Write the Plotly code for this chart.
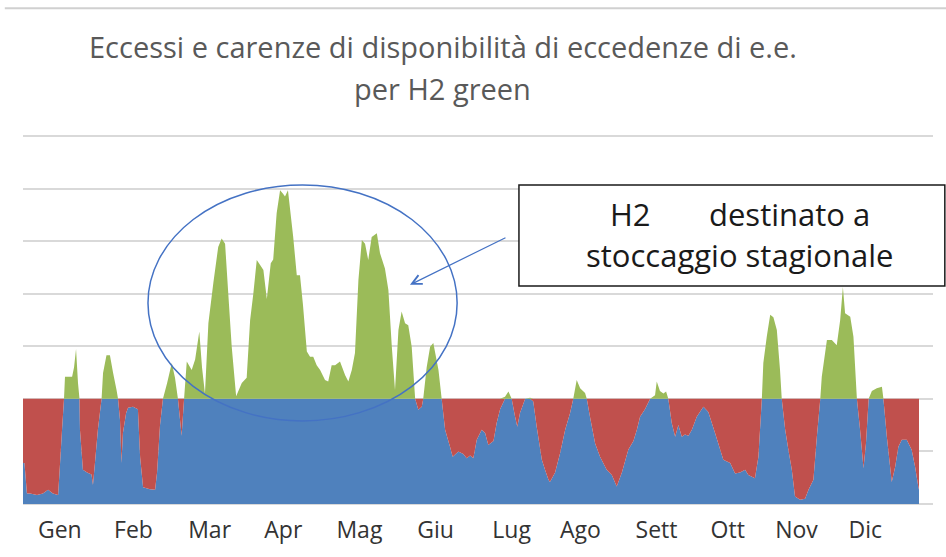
import numpy as np
import plotly.graph_objects as go

months = ["Gen", "Feb", "Mar", "Apr", "Mag", "Giu", "Lug", "Ago", "Sett", "Ott", "Nov", "Dic"]
month_pos = [15, 45, 76, 106, 137, 168, 199, 227, 258, 287, 315, 343]

threshold = 2.0  # fabbisogno

# giorno dell'anno
days = [
    0, 0.6, 1.6, 2.9, 5.7, 8.1, 10.2, 12.2, 14.3, 15.1,
    15.9, 16.7, 17.1, 20.0, 20.8, 21.6, 22.4, 23.0, 23.2, 24.4,
    26.1, 27.9, 28.5, 29.3, 30.5, 32.0, 32.6, 34.0, 35.4, 36.7,
    38.1, 38.7, 39.5, 40.1, 40.7, 42.0, 42.8, 44.8, 46.8, 47.7,
    48.9, 51.7, 53.8, 54.6, 55.8, 57.0, 58.7, 60.6, 61.9, 63.1,
    64.6, 65.6, 66.7, 68.7, 70.1, 71.8, 72.9, 74.1, 75.5, 77.5,
    79.5, 80.9, 82.3, 83.6, 85.0, 86.8, 89.1, 91.1, 92.5, 93.8,
    95.2, 96.5, 97.9, 99.3, 100.9, 101.9, 103.3, 104.7, 105.9, 106.7,
    107.9, 110.0, 111.5, 112.8, 114.0, 115.6, 116.9, 118.2, 119.6, 121.0,
    123.0, 124.3, 125.7, 127.1, 129.1, 131.2, 132.5, 133.9, 135.2, 136.6,
    138.0, 139.3, 140.6, 142.0, 144.1, 145.4, 147.4, 148.8, 150.2, 151.5,
    152.9, 154.2, 155.6, 156.9, 158.3, 159.7, 161.0, 162.4, 163.0, 164.4,
    165.8, 167.1, 169.2, 170.5, 171.9, 173.9, 175.0, 177.3, 179.3, 180.7,
    182.1, 183.4, 184.8, 186.8, 188.2, 189.5, 191.6, 192.9, 194.3, 196.3,
    197.7, 199.0, 200.4, 201.3, 202.4, 204.5, 206.5, 207.8, 209.2, 211.3,
    212.6, 214.0, 214.6, 216.7, 218.7, 220.8, 222.8, 224.1, 225.5, 226.9,
    228.9, 229.6, 230.9, 233.0, 235.0, 237.7, 239.8, 241.8, 243.9, 246.5,
    248.6, 250.0, 251.3, 253.3, 255.4, 257.4, 258.1, 259.4, 260.8, 261.9,
    262.8, 264.2, 265.6, 266.9, 268.3, 269.6, 271.0, 272.4, 274.4, 277.1,
    279.1, 281.9, 285.2, 288.0, 290.0, 292.0, 294.1, 295.4, 298.1, 299.5,
    300.9, 301.5, 302.9, 304.3, 305.6, 307.0, 308.3, 309.0, 310.4, 311.7,
    313.1, 314.4, 316.5, 318.5, 319.9, 321.9, 323.3, 324.7, 325.3, 327.4,
    329.4, 331.4, 332.8, 333.9, 334.8, 336.9, 338.2, 339.6, 340.9, 342.3,
    343.3, 344.4, 345.7, 347.7, 349.8, 350.4, 351.8, 353.8, 355.2, 356.5,
    357.9, 359.9, 361.9, 363.3, 364.6, 364.9,
]

# disponibilita' di eccedenze di e.e.
surplus = [
    0.78, 0.78, 0.20, 0.20, 0.17, 0.20, 0.27, 0.20, 0.17, 0.78,
    1.41, 2.00, 2.42, 2.42, 2.60, 2.95, 2.30, 2.00, 1.41, 0.65,
    0.60, 0.56, 0.36, 0.78, 1.41, 2.00, 2.49, 2.83, 2.83, 2.49,
    2.17, 2.00, 1.60, 0.78, 1.35, 1.73, 1.83, 1.85, 1.80, 0.89,
    0.32, 0.28, 0.27, 0.60, 1.50, 2.00, 2.30, 2.68, 2.40, 2.00,
    1.30, 2.00, 2.71, 2.55, 2.75, 3.28, 2.60, 2.10, 3.44, 4.20,
    4.89, 5.05, 4.95, 4.00, 2.99, 2.05, 2.30, 2.40, 3.50, 4.00,
    4.64, 4.55, 4.45, 3.90, 4.58, 4.65, 5.53, 5.97, 5.90, 5.85,
    5.97, 5.10, 4.35, 4.35, 3.80, 2.90, 2.80, 2.80, 2.64, 2.55,
    2.36, 2.33, 2.64, 2.64, 2.71, 2.45, 2.33, 2.55, 2.87, 4.26,
    5.02, 4.95, 4.64, 5.08, 5.15, 4.77, 4.48, 4.07, 2.99, 2.17,
    3.31, 3.66, 3.44, 3.40, 2.99, 2.00, 1.79, 1.85, 2.00, 2.60,
    2.99, 3.06, 2.55, 2.00, 1.41, 1.09, 0.90, 1.00, 0.95, 0.87,
    0.92, 0.87, 1.22, 1.41, 1.35, 1.12, 1.20, 1.54, 1.80, 2.04,
    2.14, 2.00, 1.66, 1.47, 1.73, 2.00, 2.02, 1.95, 1.47, 0.84,
    0.65, 0.46, 0.42, 0.60, 0.96, 1.41, 1.73, 2.00, 2.36, 2.20,
    2.11, 2.00, 1.66, 1.15, 0.90, 0.65, 0.55, 0.33, 0.60, 1.03,
    1.20, 1.41, 1.66, 1.80, 2.00, 2.07, 2.33, 2.15, 2.10, 2.14,
    2.00, 1.54, 1.28, 1.50, 1.28, 1.32, 1.30, 1.41, 1.66, 1.85,
    1.75, 1.34, 0.84, 0.78, 0.58, 0.60, 0.65, 0.55, 0.49, 0.90,
    2.00, 2.68, 3.18, 3.60, 3.55, 3.31, 2.55, 2.00, 1.41, 1.03,
    0.65, 0.14, 0.08, 0.10, 0.27, 0.46, 1.28, 2.00, 2.42, 3.12,
    3.12, 3.02, 3.50, 4.13, 3.63, 3.56, 3.18, 2.00, 1.41, 0.68,
    1.15, 2.00, 2.15, 2.20, 2.23, 2.00, 1.28, 0.42, 0.71, 1.09,
    1.22, 1.22, 1.03, 0.71, 0.33, 0.27,
]

v = np.array(surplus)
blue = np.minimum(v, threshold)
red = np.maximum(threshold - v, 0)
green = np.maximum(v - threshold, 0)

fig = go.Figure()
for vals, col in [(blue, "#4F81BD"), (red, "#C0504D"), (green, "#9BBB59")]:
    fig.add_trace(
        go.Scatter(
            x=days,
            y=vals,
            stackgroup="a",
            mode="none",
            fillcolor=col,
            hoverinfo="skip",
            showlegend=False,
        )
    )

title_font = dict(family="Open Sans", size=29, color="#595959")
# titolo su due righe
fig.add_annotation(
    text="Eccessi e carenze di disponibilità di eccedenze di e.e.",
    xref="paper", yref="paper", x=0.4615, y=1.24,
    xanchor="center", yanchor="middle",
    showarrow=False, font=title_font,
)
fig.add_annotation(
    text="per H2 green",
    xref="paper", yref="paper", x=0.4615, y=1.127,
    xanchor="center", yanchor="middle",
    showarrow=False, font=title_font,
)

# riquadro di testo
fig.add_shape(
    type="rect", xref="paper", yref="paper",
    x0=0.545, x1=1.013, y0=0.592, y1=0.865,
    fillcolor="white", line=dict(color="#1a1a1a", width=1.5), layer="above",
)
box_font = dict(family="Open Sans", size=31, color="#1a1a1a")
fig.add_annotation(text="H2", xref="paper", yref="paper", x=0.668, y=0.786,
                   xanchor="center", yanchor="middle", showarrow=False, font=box_font)
fig.add_annotation(text="destinato a", xref="paper", yref="paper", x=0.842, y=0.786,
                   xanchor="center", yanchor="middle", showarrow=False, font=box_font)
fig.add_annotation(text="stoccaggio stagionale", xref="paper", yref="paper",
                   x=0.787, y=0.675, xanchor="center", yanchor="middle",
                   showarrow=False, font=box_font)

# ellisse e freccia
fig.add_shape(
    type="circle", xref="x", yref="y",
    x0=50.9, x1=176.8, y0=1.58, y1=6.07,
    line=dict(color="#4472C4", width=1.5), layer="above",
)
fig.add_annotation(
    x=157.6, y=4.17, ax=197.1, ay=5.08, axref="x", ayref="y",
    text="", showarrow=True, arrowhead=5, arrowsize=1.6, arrowwidth=1.2,
    arrowcolor="#4472C4",
)

# linea sottile in alto
fig.add_shape(
    type="line", xref="paper", yref="paper",
    x0=-0.02, x1=1.02, y0=1.3428, y1=1.3428,
    line=dict(color="#D0D0D0", width=2),
)

fig.update_layout(
    width=946,
    height=557,
    margin=dict(l=23, r=13, t=134.9, b=51.9),
    plot_bgcolor="white",
    paper_bgcolor="white",
    showlegend=False,
)
fig.update_xaxes(
    range=[0, 370.6],
    tickmode="array",
    tickvals=month_pos,
    ticktext=months,
    ticks="outside",
    ticklen=4,
    tickcolor="rgba(0,0,0,0)",
    tickfont=dict(family="Open Sans", size=23, color="#333333"),
    showgrid=False,
    zeroline=False,
    automargin=False,
)
fig.update_yaxes(
    range=[-0.02, 7.02],
    dtick=1,
    showticklabels=False,
    showgrid=True,
    gridcolor="#D9D9D9",
    gridwidth=1.5,
    zeroline=False,
    automargin=False,
)

fig.write_html(
    "out.html",
    config={"displayModeBar": False},
    post_script="document.body.style.margin='0';",
)
